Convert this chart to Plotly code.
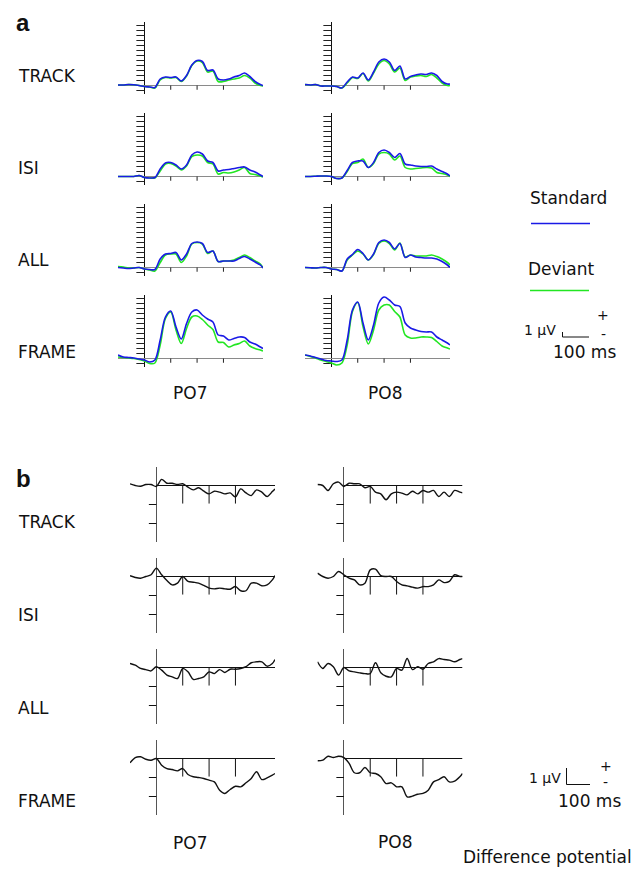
import plotly.graph_objects as go

# The page body has an 8 px margin; the figure is sized and positioned so that
# window pixel p maps to figure pixel p - 8.
OFF = 8
W, H = 642 - 2 * OFF, 880 - 2 * OFF

# ---------------- data ----------------
T = [-100, -80, -60, -40, -20, 0, 20, 40, 60, 80, 100, 120, 140, 160, 180, 200,
     220, 240, 260, 280, 300, 320, 340, 360, 380, 400, 420, 440, 450]
conditions = ["TRACK", "ISI", "ALL", "FRAME"]
electrodes = ["PO7", "PO8"]

# panel a: Standard (blue) and Deviant (green), µV
std_track_po7 = [0.1, 0.1, 0.2, 0.15, 0.0, -0.2, -0.3, -0.4, 1.3, 1.7, 1.6, 1.7, 0.9, 2.0, 4.1, 5.0, 4.8, 3.0, 3.1, 1.3, 1.1, 1.3, 1.7, 2.0, 2.5, 1.8, 0.8, 0.2, 0.0]
dev_track_po7 = [0.1, 0.1, 0.2, 0.15, 0.0, -0.2, -0.3, -0.5, 1.1, 1.6, 1.5, 1.6, 0.8, 1.9, 4.0, 4.9, 4.6, 2.7, 2.9, 0.8, 0.8, 1.1, 1.3, 1.5, 2.0, 1.5, 0.5, 0.0, -0.1]
std_isi_po7 = [0, 0, 0, 0, 0.2, -0.2, -0.3, -0.2, 1.5, 2.7, 2.8, 2.3, 1.5, 2.3, 4.3, 4.9, 4.5, 3.1, 2.8, 1.1, 1.3, 1.4, 1.6, 1.8, 1.9, 1.3, 0.9, 0.3, 0.0]
dev_isi_po7 = [0, 0, 0, 0, 0.2, -0.2, -0.3, -0.3, 1.1, 2.5, 2.6, 2.1, 1.3, 2.1, 4.0, 4.3, 4.1, 2.8, 2.5, 0.5, 0.8, 0.7, 0.9, 1.3, 1.8, 0.6, 0.4, 0.1, -0.1]
std_all_po7 = [0, -0.1, -0.2, -0.1, 0, -0.3, -0.4, -0.4, 1.7, 2.7, 2.8, 3.0, 1.5, 2.7, 4.8, 5.1, 4.8, 3.0, 3.3, 1.2, 1.3, 1.3, 1.3, 1.8, 2.2, 1.7, 1.1, 0.5, -0.1]
dev_all_po7 = [0.2, 0.1, -0.1, -0.1, 0, -0.3, -0.5, -0.7, 1.0, 2.5, 2.7, 2.7, 1.0, 2.3, 4.7, 5.0, 4.7, 2.8, 3.3, 1.2, 1.3, 1.3, 1.5, 2.0, 2.5, 2.0, 1.3, 0.7, -0.1]
std_frame_po7 = [0.7, 0.3, 0.2, 0.1, -0.1, -0.3, -0.7, -0.3, 3.7, 8.3, 9.5, 6.3, 3.9, 7.0, 9.3, 9.7, 8.7, 7.9, 7.3, 4.7, 4.5, 3.7, 4.0, 4.3, 4.2, 3.3, 2.9, 2.3, 2.0]
dev_frame_po7 = [0.3, 0.2, 0.1, 0.0, -0.2, -0.5, -1.0, -0.9, 2.7, 8.0, 9.3, 5.7, 3.0, 6.0, 8.3, 8.5, 7.8, 6.7, 5.8, 3.3, 3.2, 2.3, 2.7, 3.0, 3.5, 2.5, 2.0, 1.7, 1.5]

std_track_po8 = [0.2, 0.1, 0.2, -0.1, -0.1, -0.1, -0.2, -0.5, 0.7, 1.7, 1.5, 2.5, 1.1, 2.7, 4.7, 5.3, 4.7, 3.0, 3.9, 1.3, 1.8, 2.1, 2.3, 2.2, 2.5, 2.0, 0.8, 0.3, 0.3]
dev_track_po8 = [0.2, 0.1, 0.2, -0.1, -0.1, -0.1, -0.2, -0.5, 0.5, 1.6, 1.4, 2.4, 0.9, 2.5, 4.3, 5.0, 4.3, 2.7, 3.5, 1.0, 1.7, 1.9, 2.0, 1.8, 2.2, 1.5, 0.5, 0.0, 0.0]
std_isi_po8 = [0, 0, 0.05, 0.1, 0.1, 0, -0.4, -0.3, 1.2, 2.8, 3.1, 3.1, 1.8, 2.8, 4.8, 5.3, 4.8, 3.8, 4.6, 2.5, 2.3, 2.1, 2.0, 2.0, 2.1, 1.5, 1.0, 0.5, 0.1]
dev_isi_po8 = [0, 0, 0.05, 0.1, 0.1, 0, -0.4, -0.3, 1.0, 2.6, 2.8, 3.5, 1.8, 2.6, 4.5, 4.8, 4.5, 3.3, 4.1, 1.8, 1.5, 1.6, 1.7, 1.8, 1.7, 0.8, 0.6, 0.3, 0.0]
std_all_po8 = [0, -0.05, -0.1, 0, 0, -0.3, -0.4, -0.7, 1.7, 2.6, 3.6, 2.8, 1.5, 2.7, 5.0, 5.5, 5.0, 3.7, 4.8, 2.0, 2.5, 2.1, 2.0, 1.9, 1.9, 1.7, 1.2, 0.5, 0.0]
dev_all_po8 = [0, -0.05, -0.1, 0, 0, -0.3, -0.4, -0.7, 1.5, 2.5, 3.3, 2.7, 1.5, 2.6, 4.8, 5.3, 4.8, 3.5, 4.9, 2.1, 2.5, 2.3, 2.3, 2.3, 2.5, 2.2, 1.7, 1.0, 0.5]
std_frame_po8 = [0.7, 0.5, 0.2, -0.1, -0.4, -0.5, -0.6, -0.3, 3.7, 9.7, 11.3, 7.1, 3.7, 6.7, 11.1, 12.3, 11.7, 10.7, 10.4, 7.1, 6.1, 5.7, 5.4, 5.3, 5.3, 4.3, 3.7, 3.1, 2.7]
dev_frame_po8 = [0.7, 0.4, 0.1, -0.3, -0.6, -0.9, -1.3, -0.9, 2.7, 9.4, 11.2, 6.4, 2.9, 5.7, 9.7, 10.7, 10.7, 9.4, 8.3, 4.7, 4.1, 4.1, 4.3, 4.3, 4.2, 3.4, 2.5, 2.1, 1.9]

# panel b: difference potential, µV
diff_track_po7 = [0.09, 0, -0.04, 0.05, 0.05, -0.05, 0.32, 0.12, 0.12, 0.05, 0.09, -0.09, -0.23, -0.12, -0.3, -0.44, -0.3, -0.35, -0.44, -0.39, -0.6, -0.18, -0.39, -0.53, -0.23, -0.35, -0.58, -0.32, -0.18]
diff_track_po8 = [0.05, 0, -0.26, 0.09, 0.18, -0.05, 0.12, 0.09, 0.09, -0.12, -0.05, -0.35, -0.44, -0.75, -0.44, -0.35, -0.4, -0.49, -0.3, -0.44, -0.26, -0.35, -0.26, -0.58, -0.35, -0.58, -0.26, -0.35, -0.39]
diff_isi_po7 = [0.04, -0.05, -0.09, 0, 0.09, 0.44, 0.09, -0.21, -0.44, -0.35, 0, -0.26, -0.3, -0.35, -0.47, -0.61, -0.65, -0.61, -0.65, -0.67, -0.53, -0.75, -0.75, -0.35, -0.35, -0.49, -0.44, -0.18, 0.05]
diff_isi_po8 = [0.18, 0, -0.09, 0, 0.26, 0.09, -0.09, -0.18, -0.44, -0.35, 0.35, 0.39, 0.05, 0, 0, -0.26, -0.44, -0.49, -0.56, -0.61, -0.53, -0.53, -0.44, -0.18, -0.32, -0.26, 0.09, 0, 0]
diff_all_po7 = [0.21, 0.12, -0.05, -0.11, -0.18, 0.04, -0.14, -0.4, -0.49, -0.58, -0.05, -0.23, -0.63, -0.58, -0.49, -0.23, -0.32, -0.11, -0.26, -0.09, -0.09, -0.05, 0.04, 0.25, 0.3, 0.3, 0.07, 0.21, 0.42]
diff_all_po8 = [0.3, -0.05, 0.21, 0.04, -0.4, 0, -0.18, -0.23, -0.28, -0.32, -0.32, 0.25, -0.28, -0.46, -0.49, -0.05, -0.14, 0.47, -0.11, 0.04, -0.09, 0.21, 0.3, 0.47, 0.42, 0.39, 0.3, 0.42, 0.47]
diff_frame_po7 = [-0.23, 0.05, 0.09, -0.04, -0.09, 0, -0.35, -0.53, -0.58, -0.65, -0.53, -0.84, -0.96, -1.0, -1.05, -1.14, -1.23, -1.67, -1.84, -1.63, -1.46, -1.49, -1.28, -1.05, -0.7, -1.11, -1.02, -0.88, -0.79]
diff_frame_po8 = [-0.12, -0.09, 0.12, 0.05, 0.12, 0.05, -0.26, -0.75, -0.75, -0.47, -0.75, -0.79, -0.96, -1.32, -1.28, -1.49, -1.49, -2.02, -1.98, -1.88, -1.84, -1.67, -1.23, -1.11, -0.96, -1.23, -1.19, -0.96, -0.79]

A_STD = [[std_track_po7, std_track_po8], [std_isi_po7, std_isi_po8],
         [std_all_po7, std_all_po8], [std_frame_po7, std_frame_po8]]
A_DEV = [[dev_track_po7, dev_track_po8], [dev_isi_po7, dev_isi_po8],
         [dev_all_po7, dev_all_po8], [dev_frame_po7, dev_frame_po8]]
B_DIFF = [[diff_track_po7, diff_track_po8], [diff_isi_po7, diff_isi_po8],
          [diff_all_po7, diff_all_po8], [diff_frame_po7, diff_frame_po8]]

A_YTICKS = [-1, 1, 2, 3, 4, 5, 6, 7, 8, 9, 10, 11, 12]
B_YTICKS = [-1, -2]
X_TICKS = [100, 200, 300]

# ---------------- layout geometry (window pixels) ----------------
XR = [-100, 450]
PANEL_W = 145
A_YR = [-1.7, 12.7]
A_PXUV = 5.0
A_BASE = [85.5, 176.5, 267.5, 358.5]
A_LEFT = [118, 305]
B_YR = [-2.95, 0.95]
B_PXUV = 19.0
B_BASE = [485.5, 576.5, 667.5, 758.5]
B_LEFT = [130, 317.5]

BLUE = "#1a1ae6"
GREEN = "#22e622"
FONT = "DejaVu Sans"


def fx(p):
    return (p - OFF) / W


def fy(p):
    return 1 - (p - OFF) / H


fig = go.Figure()
layout = {}
n = 0


def add_axes(left, base, yr, pxuv, xzero_color, yzero):
    global n
    n += 1
    top = base - yr[1] * pxuv
    bot = base - yr[0] * pxuv
    sx = "" if n == 1 else str(n)
    layout["xaxis" + sx] = dict(domain=[fx(left), fx(left + PANEL_W)], range=XR,
                                anchor="y" + sx, showgrid=False, showticklabels=False,
                                ticks="", showline=False, zeroline=True,
                                zerolinecolor=xzero_color, zerolinewidth=1, fixedrange=True)
    layout["yaxis" + sx] = dict(domain=[fy(bot), fy(top)], range=yr, anchor="x" + sx,
                                showgrid=False, showticklabels=False, ticks="",
                                showline=False, zeroline=yzero is not None,
                                zerolinecolor=yzero or "#000", zerolinewidth=1,
                                fixedrange=True)
    return "x" + sx, "y" + sx


def segs(pairs):
    xs, ys = [], []
    for (x0, y0, x1, y1) in pairs:
        xs += [x0, x1, None]
        ys += [y0, y1, None]
    return xs, ys


# panel a
for r in range(4):
    for c in range(2):
        xa, ya = add_axes(A_LEFT[c], A_BASE[r], A_YR, A_PXUV, "#111", "#8a8a8a")
        tick_len_x = 8 / PANEL_W * (XR[1] - XR[0])
        pairs = [(-tick_len_x, v, 0, v) for v in A_YTICKS]
        pairs += [(t, 0, t, -0.85) for t in X_TICKS]
        xs, ys = segs(pairs)
        fig.add_trace(go.Scatter(x=xs, y=ys, xaxis=xa, yaxis=ya, mode="lines",
                                 line=dict(color="#222", width=1), hoverinfo="skip",
                                 showlegend=False))
        fig.add_trace(go.Scatter(x=T, y=A_DEV[r][c], xaxis=xa, yaxis=ya, mode="lines",
                                 line=dict(color=GREEN, width=1.6, shape="spline", smoothing=0.9),
                                 name="Deviant", showlegend=False))
        fig.add_trace(go.Scatter(x=T, y=A_STD[r][c], xaxis=xa, yaxis=ya, mode="lines",
                                 line=dict(color=BLUE, width=1.6, shape="spline", smoothing=0.9),
                                 name="Standard", showlegend=False))

# panel b
for r in range(4):
    for c in range(2):
        xa, ya = add_axes(B_LEFT[c], B_BASE[r], B_YR, B_PXUV, "#555", None)
        tick_len_x = 7.5 / PANEL_W * (XR[1] - XR[0])
        pairs = [(-tick_len_x, v, 0, v) for v in B_YTICKS]
        pairs += [(t, 0, t, -0.95) for t in X_TICKS]
        pairs += [(0, 0, XR[1], 0)]
        xs, ys = segs(pairs)
        fig.add_trace(go.Scatter(x=xs, y=ys, xaxis=xa, yaxis=ya, mode="lines",
                                 line=dict(color="#111", width=1), hoverinfo="skip",
                                 showlegend=False))
        fig.add_trace(go.Scatter(x=T, y=B_DIFF[r][c], xaxis=xa, yaxis=ya, mode="lines",
                                 line=dict(color="#111", width=1.4, shape="spline", smoothing=0.9),
                                 name="Difference", showlegend=False))

annotations = []


def text(s, x, y, size=17, xanchor="center", family=FONT, bold=False, yanchor="middle"):
    annotations.append(dict(text=("<b>%s</b>" % s) if bold else s, x=fx(x), y=fy(y),
                            xref="paper", yref="paper", showarrow=False,
                            xanchor=xanchor, yanchor=yanchor, borderpad=0,
                            font=dict(family=family, size=size, color="#111")))


text("a", 15, 8.3, size=24, xanchor="left", family="Liberation Sans", bold=True, yanchor="top")
text("b", 15, 478, size=24, xanchor="left", family="Liberation Sans", bold=True)
A_LABEL_Y = [76, 168, 260, 352]
B_LABEL_Y = [522, 615, 708, 801]
for i, cnd in enumerate(conditions):
    text(cnd, 17, A_LABEL_Y[i], xanchor="left")
    text(cnd, 17, B_LABEL_Y[i], xanchor="left")
text(electrodes[0], 190, 393)
text(electrodes[1], 385, 393)
text(electrodes[0], 190, 843)
text(electrodes[1], 395, 842)

# legend
text("Standard", 568, 198)
text("Deviant", 561, 269)
text("1 µV", 540, 330, size=14)
text("+", 603, 315, size=14)
text("-", 603, 334, size=14)
text("100 ms", 584, 352)
text("1 µV", 545, 778, size=14)
text("+", 606, 766, size=14)
text("-", 605, 782, size=14)
text("100 ms", 589, 801)
text("Difference potential", 633, 857, xanchor="right")

shapes = []


def pline(x0, y0, x1, y1, color, width=1):
    shapes.append(dict(type="line", xref="paper", yref="paper", x0=fx(x0), y0=fy(y0),
                       x1=fx(x1), y1=fy(y1), line=dict(color=color, width=width)))


pline(531, 223.5, 590, 223.5, BLUE, 1.5)
pline(530, 290.5, 589, 290.5, GREEN, 1.5)
pline(562.5, 332, 562.5, 337, "#111")
pline(562.5, 337, 589, 337, "#111")
pline(566.5, 768, 566.5, 784.5, "#111")
pline(566.5, 784.5, 590, 784.5, "#111")

fig.update_layout(width=W, height=H, margin=dict(l=0, r=0, t=0, b=0),
                  paper_bgcolor="white", plot_bgcolor="rgba(0,0,0,0)",
                  showlegend=False, annotations=annotations, shapes=shapes, **layout)

fig.write_html("out.html")
